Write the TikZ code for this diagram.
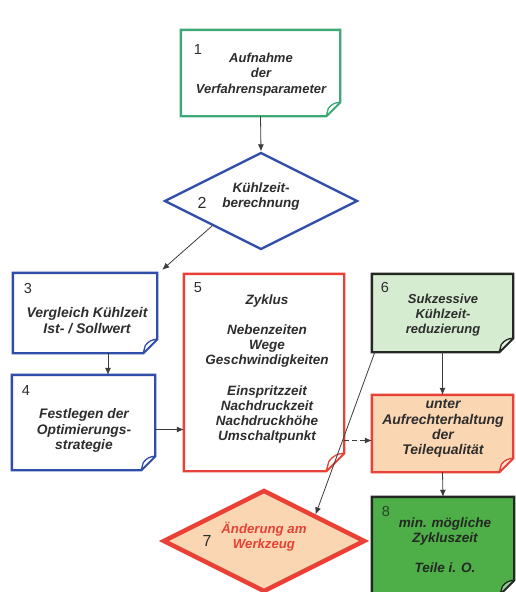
\documentclass[tikz,border=0pt]{standalone}
\usepackage{fontspec}
\setmainfont{Liberation Sans}
\usetikzlibrary{arrows.meta,shapes.geometric,fit,backgrounds}
\definecolor{cgreen}{RGB}{62,168,118}
\definecolor{cblue}{RGB}{48,78,168}
\definecolor{cred}{RGB}{232,66,56}
\definecolor{cpeach}{RGB}{251,214,178}
\definecolor{clgreen}{RGB}{214,236,208}
\definecolor{cdgreen}{RGB}{78,174,72}
\definecolor{cdark}{RGB}{35,40,35}
\definecolor{ctext}{RGB}{45,45,45}
\definecolor{cline}{RGB}{60,60,60}
\definecolor{cnum}{RGB}{40,70,40}
\newcommand\foldbox[6]{%
  \node[inner sep=0pt, fit={#2 #3}] (#1) {};
  \begin{scope}[on background layer]
    \draw[boxline, draw=#4, fill=#5] (#1.north west) -- (#1.north east)
      -- ([yshift=#6]#1.south east) -- ([xshift=-#6]#1.south east)
      -- (#1.south west) -- cycle;
    \draw[boxline, line width=1.3pt, draw=#4, fill=#5!60!white, line join=round]
      ([yshift=#6]#1.south east) to[bend right=25] ([xshift=-0.85*#6,yshift=0.55*#6]#1.south east)
      -- ([xshift=-#6]#1.south east) -- cycle;
  \end{scope}}
\begin{document}
\begin{tikzpicture}[x=1pt,y=-1pt,
  tx/.style={font=\fontsize{#1}{15.2}\selectfont\bfseries\itshape, text=ctext, align=center, inner sep=0pt},
  tx/.default=13.5,
  num/.style={font=\fontsize{14.5}{15}\selectfont, text=ctext, inner sep=0pt},
  con/.style={draw=cline, line width=0.8pt, -{Latex[length=7pt,width=6pt]}},
  boxline/.style={line width=2.4pt, line join=miter}]
\useasboundingbox (0,0) rectangle (515,592);
\begin{scope}[on background layer]
  \fill[white] (0,0) rectangle (515,592);
\end{scope}

% box 1
\foldbox{b1}{(181,30)}{(340,116)}{cgreen}{white}{14pt}
\node[num] (n1) at (198,50) {1};
\node[tx=13] (t1) at (261,74.6) {Aufnahme\\der\\Verfahrensparameter};

% diamond 2
\node[diamond, draw=cblue, line width=2.4pt, fill=white, inner sep=0pt,
      minimum width=193pt, minimum height=97pt] (d2) at (261,201) {};
\node[num, font=\fontsize{16}{16}\selectfont] (n2) at (202,202.5) {2};
\node[tx] (t2) at (261,196.6) {Kühlzeit-\\berechnung};

% box 3
\foldbox{b3}{(13,273)}{(157,353)}{cblue}{white}{14pt}
\node[num] (n3) at (28,289) {3};
\node[tx=14] (t3) at (87,320.5) {Vergleich Kühlzeit\\Ist- / Sollwert};

% box 4
\foldbox{b4}{(12,375)}{(155,470)}{cblue}{white}{14pt}
\node[num] (n4) at (26,391) {4};
\node[tx=13.8] (t4) at (84,430.6) {Festlegen der\\Optimierungs-\\strategie};

% box 5
\foldbox{b5}{(184,274)}{(344,471)}{cred}{white}{18pt}
\node[num] (n5) at (198,288) {5};
\node[tx] (t5) at (267,369) {Zyklus\\[15.2pt]Nebenzeiten\\Wege\\Geschwindigkeiten\\[15.2pt]Einspritzzeit\\Nachdruckzeit\\Nachdruckhöhe\\Umschaltpunkt};

% box 6
\foldbox{b6}{(372,274)}{(513,352)}{cdark}{clgreen}{14pt}
\node[num] (n6) at (385,287.5) {6};
\node[tx=13] (t6) at (443,315) {Sukzessive\\Kühlzeit-\\reduzierung};

% box 6b
\foldbox{bq}{(372,395)}{(513,472)}{cred}{cpeach}{14pt}
\node[tx=14] (tq) at (443,428.6) {unter\\Aufrechterhaltung\\der\\Teilequalität};

% box 8
\foldbox{b8}{(372,497)}{(514,594)}{cdark}{cdgreen}{14pt}
\node[num, text=cnum] (n8) at (386,512) {8};
\node[tx, text=cdark] (t8) at (445,545) {min. mögliche\\Zykluszeit\\[15.2pt]Teile i. O.};

% diamond 7
\node[diamond, draw=cred, line width=4.5pt, fill=cpeach, inner sep=0pt,
      minimum width=202pt, minimum height=102pt] (d7) at (264,541) {};
\node[num, font=\fontsize{16}{16}\selectfont] (n7) at (207,541) {7};
\node[tx=13.2, text=cred] (t7) at (264,536.5) {Änderung am\\Werkzeug};

% connectors
\draw[con] (b1.south) -- (d2.north);
\draw[con] (d2.south west) -- ([xshift=5pt,yshift=3pt]b3.north east);
\draw[con] ([xshift=23pt]b3.south) -- ([xshift=23pt]b3.south |- b4.north);
\draw[con] ([yshift=-7pt]b4.east) -- ([yshift=-7pt]b4.east -| b5.west);
\draw[con, dash pattern=on 5pt off 3pt] ([yshift=-68pt]b5.east) -- ([yshift=-68pt]b5.east -| bq.west);
\draw[con] (b6.south) -- (bq.north);
\draw[con] (bq.south) -- (b8.north);
\draw[con] ([xshift=3pt]b6.south west) -- (d7.north east);
\end{tikzpicture}
\end{document}
